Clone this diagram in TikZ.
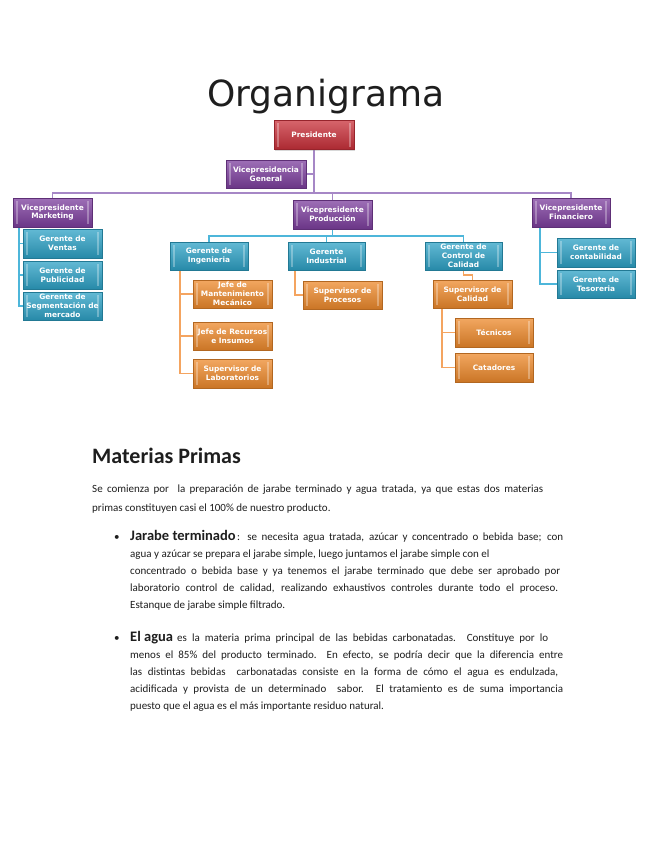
\documentclass[tikz,border=0pt]{standalone}
\usepackage{fontspec}
\setmainfont{Carlito}
\newfontfamily\djv{DejaVu Sans}
\usetikzlibrary{shadows}
\pgfdeclarelayer{bg}
\pgfsetlayers{bg,main}
\definecolor{cred}{HTML}{C9303A}
\definecolor{cpurple}{HTML}{7D3F9E}
\definecolor{cblue}{HTML}{2EA2C6}
\definecolor{corange}{HTML}{EE8A2C}
\definecolor{lpurple}{HTML}{A687C6}
\definecolor{lblue}{HTML}{4DB6DA}
\definecolor{lorange}{HTML}{F4A460}
\definecolor{txtc}{HTML}{1E1E1E}
\newcommand{\jl}[2]{\makebox[#1pt][s]{#2}}
\tikzset{
  orgbox/.style={rectangle, minimum width=79pt, minimum height=29pt, inner sep=1pt,
    align=center, text=white, draw=#1!75!black, line width=0.4pt,
    font=\djv\bfseries\fontsize{7.4}{8.8}\selectfont,
    top color=#1!75!white, bottom color=#1!85!black,
    drop shadow={shadow xshift=1pt, shadow yshift=-1.2pt, opacity=0.3},
    path picture={
      \fill[white,opacity=0.3] ([xshift=3pt,yshift=3pt]path picture bounding box.south west) rectangle ([xshift=5pt,yshift=-3pt]path picture bounding box.north west);
      \fill[white,opacity=0.3] ([xshift=-5pt,yshift=3pt]path picture bounding box.south east) rectangle ([xshift=-3pt,yshift=-3pt]path picture bounding box.north east);
    }},
  redbox/.style={orgbox=cred},
  purbox/.style={orgbox=cpurple},
  blubox/.style={orgbox=cblue},
  orabox/.style={orgbox=corange},
  pl/.style={draw=lpurple, line width=1.6pt},
  bl/.style={draw=lblue, line width=1.6pt},
  ol/.style={draw=lorange, line width=1.6pt},
  txt/.style={anchor=base west, inner sep=0pt, text=txtc, font=\fontsize{11}{13}\selectfont},
}
\begin{document}
\begin{tikzpicture}[x=1pt,y=-1pt]
\useasboundingbox (0,0) rectangle (655,848);
\begin{pgfonlayer}{bg}
\fill[white] (0,0) rectangle (655,848);
\end{pgfonlayer}
% title
\node[anchor=base west, inner sep=0pt, text=txtc, font=\djv\fontsize{36}{40}\selectfont] (title) at (207,107) {Organigrama};
% boxes
\node[redbox, minimum width=80pt] (pres) at (314,135) {Presidente};
\node[purbox, minimum width=80pt, minimum height=28pt] (vpg) at (266,174) {Vicepresidencia\\General};
\node[purbox] (vpm) at (52.5,212.5) {Vicepresidente\\Marketing};
\node[blubox] (gv) at (62.5,243.5) {Gerente de\\Ventas};
\node[blubox, minimum height=28pt] (gp) at (62.5,275) {Gerente de\\Publicidad};
\node[blubox, minimum height=28pt] (gs) at (62.5,306) {Gerente de\\Segmentación de\\mercado};
\node[purbox] (vpp) at (332.5,214.5) {Vicepresidente\\Producción};
\node[purbox, minimum width=78pt] (vpf) at (571,212.5) {Vicepresidente\\Financiero};
\node[blubox, minimum width=78pt] (gc) at (596,252.5) {Gerente de\\contabilidad};
\node[blubox, minimum width=78pt, minimum height=28pt] (gt) at (596,284) {Gerente de\\Tesoreria};
\node[blubox, minimum width=78pt, minimum height=28pt] (gi) at (209,256) {Gerente de\\Ingenieria};
\node[blubox, minimum width=77pt, minimum height=28pt] (gind) at (326.5,256) {Gerente\\Industrial};
\node[blubox, minimum width=77pt, minimum height=28pt] (gcc) at (463.5,256) {Gerente de\\Control de\\Calidad};
\node[orabox, minimum height=28pt] (jmm) at (232.5,294) {Jefe de\\Mantenimiento\\Mecánico};
\node[orabox, minimum height=28pt] (jri) at (232.5,336) {Jefe de Recursos\\e Insumos};
\node[orabox] (sl) at (232.5,373.5) {Supervisor de\\Laboratorios};
\node[orabox, minimum height=28pt] (sp) at (342.5,295) {Supervisor de\\Procesos};
\node[orabox, minimum height=28pt] (sc) at (472.5,294) {Supervisor de\\Calidad};
\node[orabox, minimum width=78pt] (tec) at (494,332.5) {Técnicos};
\node[orabox, minimum width=78pt] (cat) at (494,367.5) {Catadores};
% connectors
\coordinate (bus) at (0,193);
\coordinate (mkx) at (19,0);
\coordinate (pb) at (0,236);
\coordinate (fx) at (540,0);
\coordinate (ix) at (180,0);
\coordinate (ux) at (295,0);
\coordinate (qx) at (442,0);
\begin{pgfonlayer}{bg}
\draw[pl] (pres.south) -- (pres.south |- bus);
\draw[pl] (vpg.east) -- (vpg.east -| pres.south);
\draw[pl] (vpm.north) -- (vpm.north |- bus) -| (vpf.north);
\draw[pl] (vpp.north) -- (vpp.north |- bus);
\draw[bl] (mkx |- vpm.south) -- (mkx |- gs.west) -- (gs.west);
\draw[bl] (mkx |- gv.west) -- (gv.west);
\draw[bl] (mkx |- gp.west) -- (gp.west);
\draw[bl] (vpp.south) -- (vpp.south |- pb);
\draw[bl] (gi.north) -- (gi.north |- pb) -| (gcc.north);
\draw[bl] (gind.north) -- (gind.north |- pb);
\draw[bl] (fx |- vpf.south) -- (fx |- gt.west) -- (gt.west);
\draw[bl] (fx |- gc.west) -- (gc.west);
\draw[ol] (ix |- gi.south) -- (ix |- sl.west) -- (sl.west);
\draw[ol] (ix |- jmm.west) -- (jmm.west);
\draw[ol] (ix |- jri.west) -- (jri.west);
\draw[ol] (ux |- gind.south) -- (ux |- sp.west) -- (sp.west);
\draw[ol] (gcc.south) -- ++(0,5) -| (sc.north);
\draw[ol] (qx |- sc.south) -- (qx |- cat.west) -- (cat.west);
\draw[ol] (qx |- tec.west) -- (tec.west);
\end{pgfonlayer}
% text
\node[anchor=base west, inner sep=0pt, text=txtc, font=\bfseries\fontsize{22}{26}\selectfont] (head) at (92,463) {Materias Primas};
\node[txt] (p1) at (92,492) {\jl{451}{Se comienza por\ \ la preparación de jarabe terminado y agua tratada, ya que estas dos materias}};
\node[txt] (p2) at (92,511) {primas constituyen casi el 100\% de nuestro producto.};
\node[txt] (bu1) at (114,540) {\textbullet};
\node[txt, font=\bfseries\fontsize{14.5}{16}\selectfont] (j1a) at (130,540) {Jarabe terminado};
\node[txt] (j1b) at (237,540) {\jl{326}{: se necesita agua tratada, azúcar y concentrado o bebida base; con}};
\node[txt] (j2) at (130,557) {agua y azúcar se prepara el jarabe simple, luego juntamos el jarabe simple con el};
\node[txt] (j3) at (130,574) {\jl{430}{concentrado o bebida base y ya tenemos el jarabe terminado que debe ser aprobado por}};
\node[txt] (j4) at (130,591) {\jl{428}{laboratorio control de calidad, realizando exhaustivos controles durante todo el proceso.}};
\node[txt] (j5) at (130,608) {Estanque de jarabe simple filtrado.};
\node[txt] (bu2) at (114,641) {\textbullet};
\node[txt, font=\bfseries\fontsize{14.5}{16}\selectfont] (e1a) at (130,641) {El agua};
\node[txt] (e1b) at (177,641) {\jl{371}{es la materia prima principal de las bebidas carbonatadas. Constituye por lo}};
\node[txt] (e2) at (130,658) {\jl{433}{menos el 85\% del producto terminado.\ \ En efecto, se podría decir que la diferencia entre}};
\node[txt] (e3) at (130,675) {\jl{428}{las distintas bebidas\ \ carbonatadas consiste en la forma de cómo el agua es endulzada,}};
\node[txt] (e4) at (130,692) {\jl{433}{acidificada y provista de un determinado\ \ sabor. El tratamiento es de suma importancia}};
\node[txt] (e5) at (130,709) {puesto que el agua es el más importante residuo natural.};
\end{tikzpicture}
\end{document}
